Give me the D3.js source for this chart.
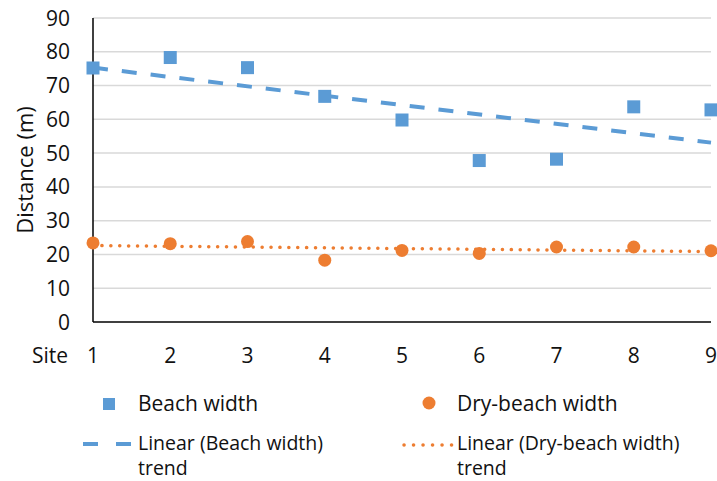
<!DOCTYPE html>
<html>
<head>
<meta charset="utf-8">
<script src="https://cdn.jsdelivr.net/npm/d3@7"></script>
<style>
  body { margin: 0; background: #fff; }
  text { font-family: "Open Sans", sans-serif; fill: #111; }
</style>
</head>
<body>
<div id="chart"></div>
<script>
// data
var sites = [1, 2, 3, 4, 5, 6, 7, 8, 9];
var beachWidth = [75.2, 78.3, 75.3, 66.8, 59.8, 47.8, 48.2, 63.7, 62.8];
var dryBeachWidth = [23.4, 23.2, 23.8, 18.3, 21.2, 20.3, 22.2, 22.2, 21.1];
var yTicks = [0, 10, 20, 30, 40, 50, 60, 70, 80, 90];

var blue = "#5b9bd5", orange = "#ed7d31";

var width = 717, height = 481;
var svg = d3.select("#chart").append("svg")
    .attr("width", width)
    .attr("height", height);

// set the ranges
var x = d3.scaleLinear().domain([1, 9]).range([93, 711]);
var y = d3.scaleLinear().domain([0, 90]).range([322, 18]);

// least squares fit, like Excel's linear trendline
function linearFit(xs, ys) {
  var mx = d3.mean(xs), my = d3.mean(ys);
  var num = d3.sum(xs, function(v, i) { return (v - mx) * (ys[i] - my); });
  var den = d3.sum(xs, function(v) { return (v - mx) * (v - mx); });
  var slope = num / den;
  return function(v) { return my + slope * (v - mx); };
}

// gridlines
svg.append("g")
  .selectAll("line")
  .data(yTicks.filter(function(d) { return d > 0; }))
  .enter().append("line")
    .attr("x1", x(1)).attr("x2", x(9))
    .attr("y1", function(d) { return y(d); })
    .attr("y2", function(d) { return y(d); })
    .attr("stroke", "#d9d9d9")
    .attr("stroke-width", 1.5);

// axes
svg.append("line")
    .attr("x1", x(1)).attr("x2", x(1))
    .attr("y1", y(90)).attr("y2", y(0))
    .attr("stroke", "#000").attr("stroke-width", 1.5);
svg.append("line")
    .attr("x1", x(1)).attr("x2", x(9))
    .attr("y1", y(0)).attr("y2", y(0))
    .attr("stroke", "#000").attr("stroke-width", 1.5);

// y tick labels
svg.append("g")
  .selectAll("text")
  .data(yTicks)
  .enter().append("text")
    .attr("x", 70)
    .attr("y", function(d) { return y(d); })
    .attr("dy", "0.36em")
    .attr("text-anchor", "end")
    .style("font-size", "21px")
    .text(function(d) { return d; });

// x tick labels
svg.append("g")
  .selectAll("text")
  .data(sites)
  .enter().append("text")
    .attr("x", function(d) { return x(d); })
    .attr("y", 363)
    .attr("text-anchor", "middle")
    .style("font-size", "21px")
    .text(function(d) { return d; });

svg.append("text")
    .attr("x", 68).attr("y", 363)
    .attr("text-anchor", "end")
    .style("font-size", "21px")
    .text("Site");

// y axis title
svg.append("text")
    .attr("transform", "translate(33," + 170 + ") rotate(-90)")
    .attr("text-anchor", "middle")
    .style("font-size", "22px")
    .text("Distance (m)");

// trend lines
var beachFit = linearFit(sites, beachWidth);
var dryFit = linearFit(sites, dryBeachWidth);
var trendLine = d3.line()
    .x(function(d) { return x(d[0]); })
    .y(function(d) { return y(d[1]); });

svg.append("path")
    .datum([[1, beachFit(1)], [9, beachFit(9)]])
    .attr("d", trendLine)
    .attr("fill", "none")
    .attr("stroke", blue)
    .attr("stroke-width", 4)
    .attr("stroke-dasharray", "15,14");

svg.append("path")
    .datum([[1, dryFit(1)], [9, dryFit(9)]])
    .attr("d", trendLine)
    .attr("fill", "none")
    .attr("stroke", orange)
    .attr("stroke-width", 3.5)
    .attr("stroke-linecap", "round")
    .attr("stroke-dasharray", "0.1,8.8");

// points
svg.append("g")
  .selectAll("rect")
  .data(sites)
  .enter().append("rect")
    .attr("x", function(d) { return x(d) - 6.5; })
    .attr("y", function(d, i) { return y(beachWidth[i]) - 6.5; })
    .attr("width", 13).attr("height", 13)
    .attr("fill", blue);

svg.append("g")
  .selectAll("circle")
  .data(sites)
  .enter().append("circle")
    .attr("cx", function(d) { return x(d); })
    .attr("cy", function(d, i) { return y(dryBeachWidth[i]); })
    .attr("r", 6.5)
    .attr("fill", orange);

// legend
var legend = svg.append("g").style("font-size", "21px");

legend.append("rect")
    .attr("x", 103).attr("y", 398).attr("width", 12).attr("height", 12)
    .attr("fill", blue);
legend.append("text").attr("x", 138).attr("y", 411).text("Beach width");

legend.append("circle")
    .attr("cx", 429).attr("cy", 403).attr("r", 6.5)
    .attr("fill", orange);
legend.append("text").attr("x", 457).attr("y", 411).text("Dry-beach width");

legend.append("line")
    .attr("x1", 83).attr("x2", 131).attr("y1", 444).attr("y2", 444)
    .attr("stroke", blue).attr("stroke-width", 4)
    .attr("stroke-dasharray", "15,18");
legend.append("text").attr("x", 138).attr("y", 450).style("font-size", "19.5px")
    .text("Linear (Beach width)");
legend.append("text").attr("x", 138).attr("y", 475).style("font-size", "19.5px")
    .text("trend");

legend.append("line")
    .attr("x1", 404).attr("x2", 452).attr("y1", 445).attr("y2", 445)
    .attr("stroke", orange).attr("stroke-width", 3.5)
    .attr("stroke-linecap", "round")
    .attr("stroke-dasharray", "0.1,9.4");
legend.append("text").attr("x", 457).attr("y", 450).style("font-size", "19.5px")
    .text("Linear (Dry-beach width)");
legend.append("text").attr("x", 457).attr("y", 475).style("font-size", "19.5px")
    .text("trend");
</script>
</body>
</html>
